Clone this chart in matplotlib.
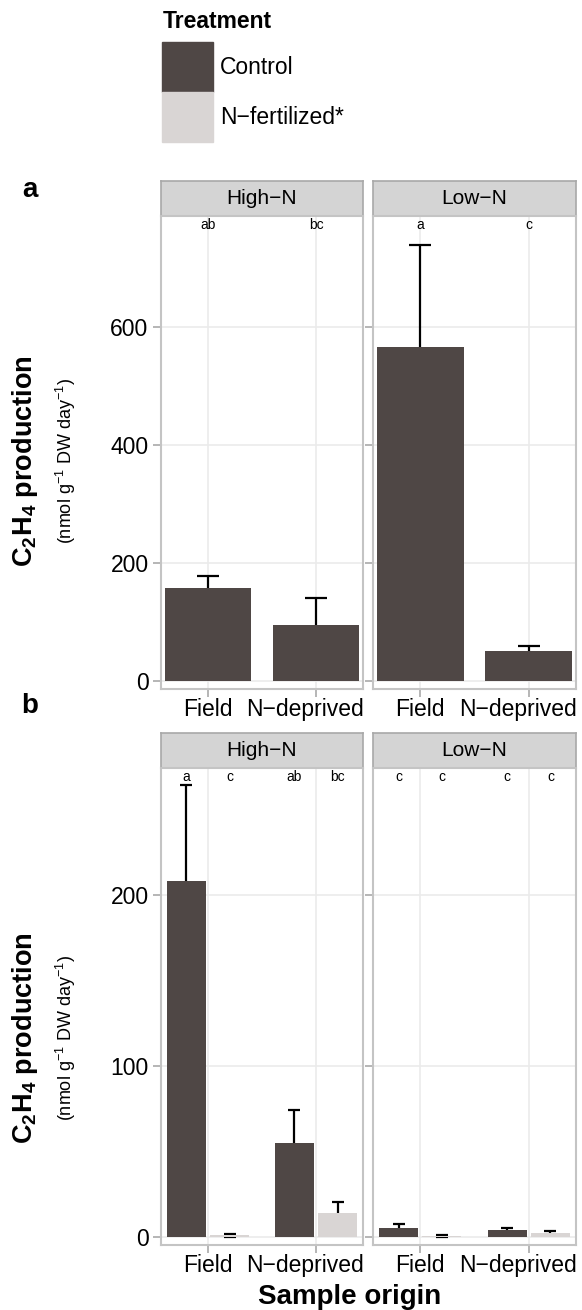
import numpy as np
import matplotlib
matplotlib.use("Agg")
import matplotlib.pyplot as plt
import matplotlib.transforms as mtrans
from matplotlib.patches import Rectangle

plt.rcParams['font.family'] = ['Liberation Sans', 'DejaVu Sans']
plt.rcParams['mathtext.fontset'] = 'custom'
plt.rcParams['mathtext.rm'] = 'Liberation Sans'
plt.rcParams['mathtext.bf'] = 'Liberation Sans:bold'
plt.rcParams['mathtext.it'] = 'Liberation Sans:italic'

# ---------------- data ----------------
origins = ['Field', 'N\u2212deprived']
facets = ['High\u2212N', 'Low\u2212N']
treatments = ['Control', 'N\u2212fertilized*']

# panel a: control only
a_mean = {'High\u2212N': [158, 95], 'Low\u2212N': [566, 51]}
a_se = {'High\u2212N': [20, 45], 'Low\u2212N': [173, 8]}
a_letters = {'High\u2212N': ['ab', 'bc'], 'Low\u2212N': ['a', 'c']}

# panel b: control and N-fertilized
b_ctrl = {'High\u2212N': [208, 55], 'Low\u2212N': [5, 4]}
b_ctrl_se = {'High\u2212N': [56, 19], 'Low\u2212N': [2.5, 1.5]}
b_fert = {'High\u2212N': [1, 14], 'Low\u2212N': [0.4, 2.5]}
b_fert_se = {'High\u2212N': [1, 6.5], 'Low\u2212N': [0.6, 1.2]}
b_letters = {'High\u2212N': ['a', 'c', 'ab', 'bc'], 'Low\u2212N': ['c', 'c', 'c', 'c']}

col_ctrl = '#4f4745'
col_fert = '#d9d5d4'
grid_col = '#ebebeb'
border_col = '#c4c4c4'
strip_col = '#d4d4d4'

W, H = 582, 1310
fig = plt.figure(figsize=(W / 100, H / 100), dpi=100)


def px_axes(x0, y0, x1, y1):
    # pixel box (top-left origin) -> figure axes
    return fig.add_axes([x0 / W, 1 - y1 / H, (x1 - x0) / W, (y1 - y0) / H])


def style_panel(ax, ylim, yticks, show_y):
    ax.set_xlim(1 - 0.435, 2 + 0.435)
    ax.set_ylim(*ylim)
    ax.set_xticks([1, 2])
    ax.set_xticklabels([])
    # x labels drawn by hand: the long one sits a little left of its tick
    base = mtrans.blended_transform_factory(ax.transData, ax.transAxes)
    for x, lab, dx in zip([1, 2], origins, [0, -11]):
        tr = base + mtrans.ScaledTranslation(dx / 100, -9 / 100, fig.dpi_scale_trans)
        ax.text(x, 0, lab, transform=tr, ha='center', va='top', fontsize=16.5)
    ax.set_yticks(yticks)
    if show_y:
        ax.set_yticklabels([str(t) for t in yticks], fontsize=16.5)
    else:
        ax.set_yticklabels([])
        ax.tick_params(axis='y', length=0)
    ax.grid(True, color=grid_col, lw=1.2)
    ax.set_axisbelow(True)
    for s in ax.spines.values():
        s.set_color(border_col)
        s.set_linewidth(1.5)
    ax.tick_params(colors='#b0b0b0', labelcolor='black', width=1.3, length=6, pad=3)


def strip(x0, y0, x1, y1, label):
    sa = px_axes(x0, y0, x1, y1)
    sa.set_xticks([])
    sa.set_yticks([])
    sa.set_facecolor(strip_col)
    for s in sa.spines.values():
        s.set_color('#a8a8a8')
        s.set_linewidth(1.2)
    sa.text(0.5, 0.5, label, ha='center', va='center', fontsize=15, transform=sa.transAxes)


cols = [(161, 363), (373, 576)]

# ---------------- panel a ----------------
a_top, a_bot = 216, 689
a_ylim = (-13.6, 788)
for i, f in enumerate(facets):
    x0, x1 = cols[i]
    strip(x0, 181, x1, a_top, f)
    ax = px_axes(x0, a_top, x1, a_bot)
    xs = np.array([1, 2])
    ax.errorbar(xs, a_mean[f], yerr=a_se[f], fmt='none',
                ecolor='black', elinewidth=1.6, capsize=8, capthick=1.6, zorder=1.5)
    ax.bar(xs, a_mean[f], width=0.8, color=col_ctrl, zorder=2)
    for x, lab in zip(xs, a_letters[f]):
        ax.text(x, 773, lab, ha='center', va='center', fontsize=10)
    style_panel(ax, a_ylim, [0, 200, 400, 600], i == 0)

# ---------------- panel b ----------------
b_top, b_bot = 768, 1245
b_ylim = (-4.7, 274)
off = 0.2
for i, f in enumerate(facets):
    x0, x1 = cols[i]
    strip(x0, 733, x1, b_top, f)
    ax = px_axes(x0, b_top, x1, b_bot)
    xs = np.array([1, 2])
    ax.errorbar(xs - off, b_ctrl[f], yerr=b_ctrl_se[f], fmt='none',
                ecolor='black', elinewidth=1.6, capsize=4.3, capthick=1.6, zorder=1.5)
    ax.errorbar(xs + off, b_fert[f], yerr=b_fert_se[f], fmt='none',
                ecolor='black', elinewidth=1.6, capsize=4.3, capthick=1.6, zorder=1.5)
    ax.bar(xs - off, b_ctrl[f], width=0.36, color=col_ctrl, zorder=2)
    ax.bar(xs + off, b_fert[f], width=0.36, color=col_fert, zorder=2)
    pos = [1 - off, 1 + off, 2 - off, 2 + off]
    for x, lab in zip(pos, b_letters[f]):
        ax.text(x, 269, lab, ha='center', va='center', fontsize=10)
    style_panel(ax, b_ylim, [0, 100, 200], i == 0)

# ---------------- axis titles ----------------
ytitle = r'$\mathbf{C_2H_4}$ production'
ysub = r'(nmol g$^{-1}$ DW day$^{-1}$)'
for yc in [461, 1038]:
    fig.text(25 / W, 1 - yc / H, ytitle, rotation=90, ha='center', va='center',
             fontsize=19.5, fontweight='bold')
    fig.text(66 / W, 1 - yc / H, ysub, rotation=90, ha='center', va='center', fontsize=13)

fig.text(350 / W, 1 - 1297 / H, 'Sample origin', ha='center', va='center',
         fontsize=20, fontweight='bold')
fig.text(30 / W, 1 - 190 / H, 'a', ha='center', va='center', fontsize=20, fontweight='bold')
fig.text(30 / W, 1 - 706 / H, 'b', ha='center', va='center', fontsize=20, fontweight='bold')

# ---------------- legend ----------------
fig.text(163 / W, 1 - 21 / H, 'Treatment', ha='left', va='center', fontsize=16.5, fontweight='bold')
for k, (lab, c) in enumerate(zip(treatments, [col_ctrl, col_fert])):
    ky = 42 + k * 50
    fig.patches.append(Rectangle((162 / W, 1 - (ky + 50) / H), 51 / W, 50 / H,
                                 transform=fig.transFigure, color=c, figure=fig))
    fig.text(220 / W, 1 - (ky + 25) / H, lab, ha='left', va='center', fontsize=16.5)

fig.savefig('out.png', dpi=100)
